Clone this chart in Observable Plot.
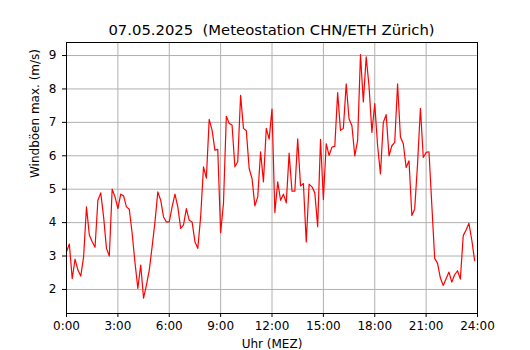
<!DOCTYPE html>
<html>
<head>
<meta charset="utf-8">
<script src="https://cdn.jsdelivr.net/npm/d3@7"></script>
<script src="https://cdn.jsdelivr.net/npm/@observablehq/plot@0.6"></script>
<style>
  html, body { margin: 0; padding: 0; background: #fff; }
  body { width: 530px; height: 350px; overflow: hidden; font-family: "DejaVu Sans", sans-serif; }
  #title { width: 530px; box-sizing: border-box; padding-left: 13px; padding-top: 21px; height: 38px;
           font-size: 14.8px; line-height: 17px; text-align: center; white-space: pre; color: #000; }
</style>
</head>
<body>
<div id="title"></div>
<div id="chart"></div>
<script>
const titleText = "07.05.2025  (Meteostation CHN/ETH Zürich)";
const xLabel = "Uhr (MEZ)";
const yLabel = "Windböen max. (m/s)";
const startHour = 0;
const stepMinutes = 10;
const xTicks = [0, 3, 6, 9, 12, 15, 18, 21, 24];
const xTickLabels = ["0:00", "3:00", "6:00", "9:00", "12:00", "15:00", "18:00", "21:00", "24:00"];
const yTicks = [2, 3, 4, 5, 6, 7, 8, 9];
const gusts = [
  3.13, 3.36, 2.32, 2.91, 2.58, 2.40, 2.98, 4.47, 3.63, 3.43, 3.26, 4.67,
  4.89, 4.17, 3.23, 3.00, 5.00, 4.77, 4.42, 4.85, 4.80, 4.47, 4.40, 3.68,
  2.80, 2.03, 2.73, 1.74, 2.13, 2.58, 3.28, 4.02, 4.92, 4.67, 4.17, 4.02,
  4.02, 4.47, 4.85, 4.47, 3.83, 3.93, 4.42, 4.07, 4.02, 3.43, 3.23, 4.17,
  5.67, 5.33, 7.09, 6.77, 6.17, 6.19, 3.70, 4.57, 7.18, 6.97, 6.92, 5.67,
  5.82, 7.81, 6.82, 6.75, 5.62, 5.32, 4.50, 4.77, 6.12, 5.22, 6.82, 6.50,
  7.40, 4.30, 5.22, 4.67, 4.85, 4.59, 6.08, 4.94, 4.94, 6.51, 5.10, 5.17,
  3.42, 5.15, 5.07, 4.89, 3.88, 6.49, 4.69, 6.36, 6.01, 6.26, 6.28, 7.89,
  6.76, 6.82, 8.15, 7.10, 6.90, 6.00, 6.46, 9.03, 7.61, 8.96, 8.08, 6.70,
  7.56, 6.30, 5.46, 7.00, 7.23, 6.00, 6.30, 6.40, 8.15, 6.56, 6.36, 5.65,
  5.85, 4.21, 4.41, 5.76, 7.42, 5.95, 6.10, 6.12, 4.52, 2.93, 2.78, 2.34,
  2.12, 2.32, 2.52, 2.22, 2.44, 2.56, 2.31, 3.61, 3.78, 3.98, 3.48, 2.86
];

document.getElementById("title").textContent = titleText;

const data = gusts.map((v, i) => ({hour: startHour + i * stepMinutes / 60, v}));
const fmt = d => xTickLabels[xTicks.indexOf(d)];

const chart = Plot.plot({
  width: 530,
  height: 312,
  marginTop: 4,
  marginBottom: 37,
  marginLeft: 66,
  marginRight: 53,
  style: {fontFamily: "DejaVu Sans, sans-serif", fontSize: "12px", color: "#000", background: "#fff"},
  x: {domain: [0, 24]},
  y: {domain: [1.28, 9.39]},
  marks: [
    Plot.gridX(xTicks, {stroke: "#b0b0b0", strokeOpacity: 1, strokeWidth: 1}),
    Plot.gridY(yTicks, {stroke: "#b0b0b0", strokeOpacity: 1, strokeWidth: 1}),
    Plot.line(data, {x: "hour", y: "v", stroke: "#ff0000", strokeWidth: 1.2}),
    Plot.frame({stroke: "#000", strokeWidth: 1}),
    Plot.axisX({ticks: xTicks, tickFormat: fmt, tickSize: 4, tickPadding: 4, fontSize: 12, label: null, stroke: "#000"}),
    Plot.axisY({ticks: yTicks, tickSize: 4, tickPadding: 6, fontSize: 12, label: null, stroke: "#000"}),
    Plot.text([xLabel], {frameAnchor: "bottom", dy: 31, lineAnchor: "middle", fontSize: 12, fill: "#000"}),
    Plot.text([yLabel], {frameAnchor: "left", dx: -31, rotate: -90, lineAnchor: "middle", fontSize: 12, fill: "#000"})
  ]
});
document.getElementById("chart").appendChild(chart);
</script>
</body>
</html>
